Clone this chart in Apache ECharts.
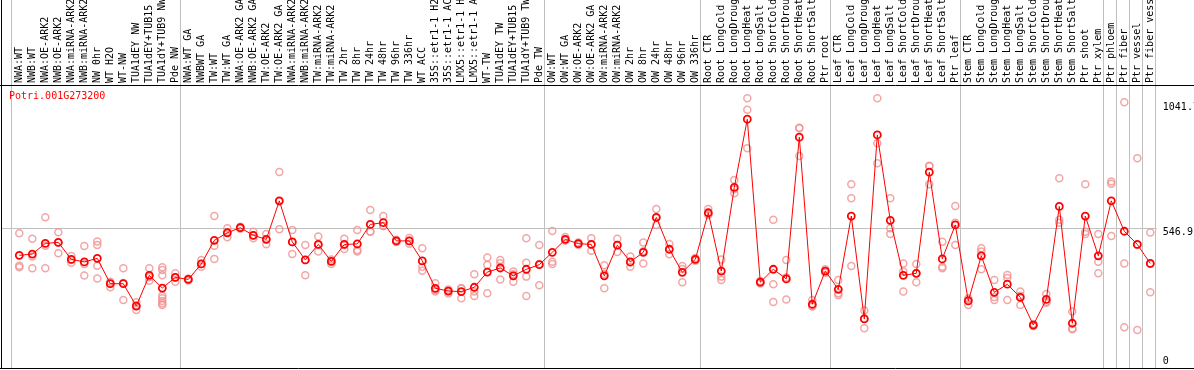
<!DOCTYPE html>
<html>
<head>
<meta charset="utf-8">
<script src="https://cdn.jsdelivr.net/npm/echarts@6/dist/echarts.min.js"></script>
<style>
html,body{margin:0;padding:0;background:#fff;}
#chart{width:1194px;height:370px;}
</style>
</head>
<body>
<div id="chart"></div>
<script>
const chartTitle = "Potri.001G273200";

const categories = [
  "NWA:WT","NWB:WT","NWA:OE-ARK2","NWB:OE-ARK2","NWA:miRNA-ARK2","NWB:miRNA-ARK2","NW 0hr","WT H2O","WT-NW","TUA1dEY NW","TUA1dEY+TUB15 NW","TUA1dY+TUB9 NW","Pde NW",
  "NWA:WT GA","NWBWT GA","TW:WT","TW:WT GA","NWA:OE-ARK2 GA","NWB:OE-ARK2 GA","TW:OE-ARK2","TW:OE-ARK2 GA","NWA:miRNA-ARK2","NWB:miRNA-ARK2","TW:miRNA-ARK2","TW:miRNA-ARK2",
  "TW 2hr","TW 8hr","TW 24hr","TW 48hr","TW 96hr","TW 336hr","WT ACC","35S::etr1-1 H2O","35S::etr1-1 ACC","LMX5::etr1-1 H2O","LMX5::etr1-1 ACC","WT-TW","TUA1dEY TW","TUA1dEY+TUB15 TW","TUA1dY+TUB9 TW","Pde TW",
  "OW:WT","OW:WT GA","OW:OE-ARK2","OW:OE-ARK2 GA","OW:miRNA-ARK2","OW:miRNA-ARK2","OW 2hr","OW 8hr","OW 24hr","OW 48hr","OW 96hr","OW 336hr",
  "Root CTR","Root LongCold","Root LongDrought","Root LongHeat","Root LongSalt","Root ShortCold","Root ShortDrought","Root ShortHeat","Root ShortSalt","Ptr root",
  "Leaf CTR","Leaf LongCold","Leaf LongDrought","Leaf LongHeat","Leaf LongSalt","Leaf ShortCold","Leaf ShortDrought","Leaf ShortHeat","Leaf ShortSalt","Ptr leaf",
  "Stem CTR","Stem LongCold","Stem LongDrought","Stem LongHeat","Stem LongSalt","Stem ShortCold","Stem ShortDrought","Stem ShortHeat","Stem ShortSalt","Ptr shoot","Ptr xylem",
  "Ptr phloem","Ptr fiber","Ptr vessel","Ptr fiber vessel"
];

const means = [
  439,444,486,490,423,413,427,327,327,239,360,310,352,
  344,405,498,528,548,518,502,654,492,421,482,415,
  482,484,561,568,496,496,417,309,298,296,313,373,389,358,384,402,
  451,502,485,482,358,479,413,451,589,463,372,423,
  607,377,707,976,333,384,346,905,246,377,
  305,594,188,914,577,360,368,767,425,559,
  259,437,293,325,273,164,265,632,171,594,437,
  654,534,482,407
];

const replicates = [
  [526,398,392],[504,434,388],[589,477,388],[530,490,447],[436,421,410],[476,405,359],[494,480,398,348],[335,327,313],[388,330,263],[254,239,223],[388,353,339],[392,381,360,280,270,259,250,243],[368,352,335],
  [348,344,340],[421,405,394],[594,477,425],[546,528,510],[552,548,544],[532,518,506],[523,502,483],[768,652,542],[539,492,444],[480,421,360],[513,480,454],[423,415,405],
  [504,480,464],[539,460,454],[618,533,532],[594,555,555],[500,496,492],[507,496,485],[467,394,378],[329,302,296],[304,298,288],[309,308,270],[364,296,279],[430,401,289],[421,408,344],[375,364,335],[506,410,355,279],[480,405,321],
  [535,414,405],[511,502,497],[490,485,480],[506,482,457],[400,365,309],[504,480,452],[434,411,394],[490,455,407],[622,586,559],[484,463,443],[397,385,333],[428,423,418],
  [622,602,598],[423,355,342],[736,700,684],[1059,1013,861],[338,333,328],[579,325,255],[421,352,265],[942,940,831],[263,240,237],[384,377,370],
  [342,289,282],[719,664,397],[221,190,151],[1059,881,802],[664,546,523],[407,375,296],[405,368,333],[792,790,719],[493,394,388],[634,568,480],
  [270,265,243],[467,454,384],[342,275,263],[361,350,263],[296,280,243],[168,164,160],[286,256,252],[743,579,568],[217,150,147],[719,532,523],[523,414,368],
  [730,721,515],[1043,407,155],[822,480,144],[529,405,293]
];

const yTickValues = [0, 546.9, 1041.7];
const yMax = 1111;
const separatorIndices = [0,13,41,53,63,73,84,85,86,87,88];

const mono = "'DejaVu Sans Mono', monospace";
const sepSet = new Set(separatorIndices);

const scatterData = [];
replicates.forEach((arr, i) => arr.forEach(v => scatterData.push([i, v])));

const chart = echarts.init(document.getElementById('chart'), null, {renderer: 'canvas'});
chart.setOption({
  animation: false,
  backgroundColor: '#fff',
  title: {
    text: chartTitle, left: 4, top: 86,
    textStyle: {fontFamily: mono, fontSize: 10, fontWeight: 'normal', color: '#ff0000'}
  },
  grid: [
    {left: 12.8, right: 37.2, top: 85, bottom: 3.4, outerBoundsMode: 'none'},
    {left: 11.3, right: 38.7, top: 0, bottom: 2, outerBoundsMode: 'none'},
    {left: 1, right: 37.2, top: 85, bottom: 3.4, outerBoundsMode: 'none'}
  ],
  xAxis: [
    {
      gridIndex: 0, type: 'category', position: 'top', data: categories, boundaryGap: true,
      axisLine: {show: false}, axisTick: {show: false}, splitLine: {show: false},
      axisLabel: {interval: 0, rotate: 90, margin: 2, fontFamily: mono, fontSize: 10, color: '#000'}
    },
    {
      gridIndex: 1, type: 'category', data: categories, boundaryGap: true,
      axisLine: {show: false}, axisTick: {show: false}, axisLabel: {show: false},
      splitLine: {show: true, interval: (idx) => sepSet.has(idx), lineStyle: {color: '#c0c0c0', width: 1}}
    },
    {gridIndex: 2, type: 'value', min: 0, max: 1, show: false}
  ],
  yAxis: [
    {gridIndex: 0, type: 'value', min: 0, max: yMax, show: false},
    {gridIndex: 1, type: 'value', min: 0, max: 1, show: false},
    {
      gridIndex: 2, type: 'value', min: 0, max: yMax, position: 'right',
      axisLine: {show: false},
      axisTick: {show: false, customValues: [yTickValues[1]]},
      splitLine: {show: true, lineStyle: {color: '#c0c0c0', width: 1}},
      axisLabel: {
        customValues: yTickValues, margin: 6, fontFamily: mono, fontSize: 10, color: '#000',
        formatter: (v) => v === 0 ? '{b|0}' : '{a|' + (v === yTickValues[2] ? '1041.7' : String(v)) + '}',
        rich: {
          a: {fontFamily: mono, fontSize: 10, color: '#000', padding: [9, 0, 0, 0]},
          b: {fontFamily: mono, fontSize: 10, color: '#000', padding: [0, 0, 10, 0]}
        }
      }
    }
  ],
  series: [
    {
      type: 'scatter', xAxisIndex: 0, yAxisIndex: 0, data: scatterData,
      symbol: 'circle', symbolSize: 7,
      itemStyle: {color: 'rgba(0,0,0,0)', borderColor: '#f09090', borderWidth: 1.5},
      z: 3, silent: true
    },
    {
      type: 'line', xAxisIndex: 0, yAxisIndex: 0, data: means,
      symbol: 'circle', symbolSize: 7, showAllSymbol: true,
      lineStyle: {color: '#ff0000', width: 1},
      itemStyle: {color: 'rgba(0,0,0,0)', borderColor: '#ff0000', borderWidth: 1.8},
      z: 4, silent: true
    }
  ],
  graphic: [
    {type: 'line', shape: {x1: 1.5, y1: 0, x2: 1.5, y2: 369}, style: {stroke: '#000', lineWidth: 1}, z: 10, silent: true},
    {type: 'line', shape: {x1: 0, y1: 85.5, x2: 1194, y2: 85.5}, style: {stroke: '#000', lineWidth: 1}, z: 10, silent: true},
    {type: 'line', shape: {x1: 0, y1: 368.5, x2: 1194, y2: 368.5}, style: {stroke: '#000', lineWidth: 1}, z: 10, silent: true}
  ]
});
</script>
</body>
</html>
